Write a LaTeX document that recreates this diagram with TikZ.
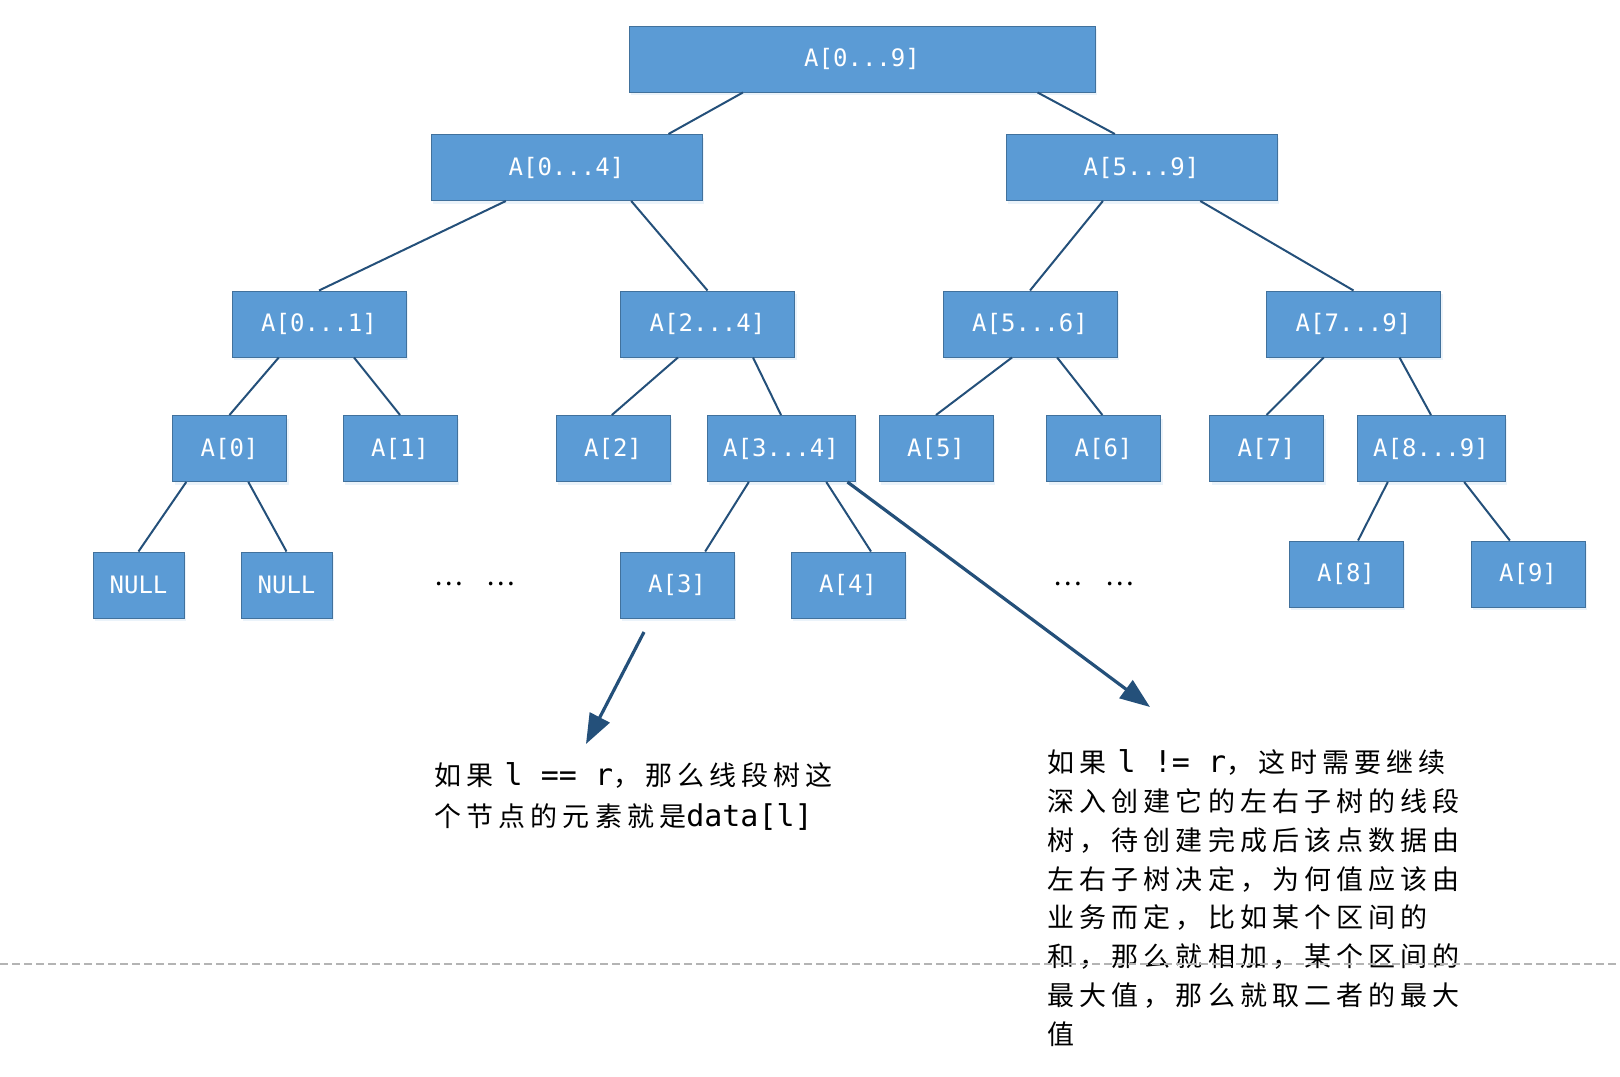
\documentclass[tikz,border=0pt]{standalone}
\usepackage{fontspec}
\setmainfont{DejaVu Sans Mono}
\newfontfamily\cjk[LetterSpace=19]{Noto Sans CJK SC}
\newfontfamily\cjkplain{Noto Sans CJK SC}
\newfontfamily\monof{DejaVu Sans Mono}
\usetikzlibrary{calc,arrows.meta,shadows}
\definecolor{boxfill}{HTML}{5B9BD5}
\definecolor{boxline}{HTML}{41719C}
\definecolor{edgec}{HTML}{24507A}
\definecolor{dashc}{HTML}{B4B4B4}
\tikzset{
  box/.style={draw=boxline, line width=0.5pt, fill=boxfill, text=white,
    font=\monof\fontsize{12}{14}\selectfont, minimum height=33pt, inner sep=0pt,
    drop shadow={opacity=0.12, shadow xshift=1pt, shadow yshift=-1.5pt, fill=boxfill}},
  treeedge/.style={draw=edgec, line width=1pt},
  bigarrow/.style={draw=edgec, line width=1.6pt, -{Triangle[length=15pt,width=11pt]}},
  note/.style={align=left, inner sep=0pt, anchor=north west, text=black},
  dots/.style={font=\cjkplain\fontsize{13.5}{14}\selectfont, inner sep=0pt}
}
\newcommand{\tedge}[4]{\draw[treeedge] ($(#1.south west)!#2!(#1.south east)$) -- ($(#3.north west)!#4!(#3.north east)$);}
\newcommand{\mono}[1]{{\monof\fontsize{15}{19}\selectfont #1}}
\begin{document}
\begin{tikzpicture}[x=0.5pt,y=-0.5pt]
\useasboundingbox (0,0) rectangle (1620,1076);
% level 0
\node[box, minimum width=233pt] (n09) at (862,59) {A[0...9]};
% level 1
\node[box, minimum width=135.5pt] (n04) at (566.5,167.5) {A[0...4]};
\node[box, minimum width=135.5pt] (n59) at (1141.5,167.5) {A[5...9]};
% level 2
\node[box, minimum width=87pt] (n01) at (319,324) {A[0...1]};
\node[box, minimum width=87pt] (n24) at (707.5,324) {A[2...4]};
\node[box, minimum width=87pt] (n56) at (1030,324) {A[5...6]};
\node[box, minimum width=87pt] (n79) at (1353.5,324) {A[7...9]};
% level 3
\node[box, minimum width=57pt] (a0) at (229.5,448.5) {A[0]};
\node[box, minimum width=57pt] (a1) at (400,448.5) {A[1]};
\node[box, minimum width=57pt] (a2) at (613,448.5) {A[2]};
\node[box, minimum width=74pt] (n34) at (781,448.5) {A[3...4]};
\node[box, minimum width=57pt] (a5) at (936,448.5) {A[5]};
\node[box, minimum width=57pt] (a6) at (1103.5,448.5) {A[6]};
\node[box, minimum width=57pt] (a7) at (1266.5,448.5) {A[7]};
\node[box, minimum width=74pt] (n89) at (1431,448.5) {A[8...9]};
% level 4
\node[box, minimum width=45.5pt] (null1) at (138.5,585) {NULL};
\node[box, minimum width=45.5pt] (null2) at (286.5,585) {NULL};
\node[box, minimum width=57pt] (a3) at (677,585) {A[3]};
\node[box, minimum width=57pt] (a4) at (848,585) {A[4]};
\node[box, minimum width=57pt] (a8) at (1346,574) {A[8]};
\node[box, minimum width=57pt] (a9) at (1528,574) {A[9]};
% dots
\node[dots] (dotsl) at (475,584) {…\hspace{11.5pt}…};
\node[dots] (dotsr) at (1094,584) {…\hspace{11.5pt}…};
% edges
\tedge{n09}{0.245}{n04}{0.875}
\tedge{n09}{0.876}{n59}{0.402}
\tedge{n04}{0.277}{n01}{0.5}
\tedge{n04}{0.738}{n24}{0.5}
\tedge{n59}{0.358}{n56}{0.5}
\tedge{n59}{0.716}{n79}{0.5}
\tedge{n01}{0.27}{a0}{0.5}
\tedge{n01}{0.70}{a1}{0.5}
\tedge{n24}{0.331}{a2}{0.49}
\tedge{n24}{0.76}{n34}{0.5}
\tedge{n56}{0.397}{a5}{0.5}
\tedge{n56}{0.655}{a6}{0.49}
\tedge{n79}{0.33}{a7}{0.5}
\tedge{n79}{0.763}{n89}{0.5}
\tedge{a0}{0.124}{null1}{0.5}
\tedge{a0}{0.664}{null2}{0.5}
\tedge{n34}{0.284}{a3}{0.745}
\tedge{n34}{0.804}{a4}{0.70}
\tedge{n89}{0.21}{a8}{0.605}
\tedge{n89}{0.723}{a9}{0.342}
% notes
\node[note, font=\cjk\fontsize{13.5}{20.5}\selectfont] (t1) at (434,762)
  {如果 \mono{l == r}，那么线段树这\\
   个节点的元素就是\mono{data[l]}};
\node[note, font=\cjk\fontsize{13.5}{19.45}\selectfont] (t2) at (1047,749)
  {如果 \mono{l != r}，这时需要继续\\
   深入创建它的左右子树的线段\\
   树，待创建完成后该点数据由\\
   左右子树决定，为何值应该由\\
   业务而定，比如某个区间的\\
   和，那么就相加，某个区间的\\
   最大值，那么就取二者的最大\\
   值};
% arrows
\coordinate (s1) at (644,632);
\coordinate (e1) at (586,744);
\coordinate (e2) at (1150,707);
\draw[bigarrow] (s1) -- (e1);
\draw[bigarrow] ($(n34.south west)!0.946!(n34.south east)$) -- (e2);
% dashed separator
\coordinate (dl) at (0,964);
\coordinate (dr) at (1620,964);
\draw[dashc, line width=0.6pt, dash pattern=on 4pt off 2pt] (dl) -- (dr);
\end{tikzpicture}
\end{document}
